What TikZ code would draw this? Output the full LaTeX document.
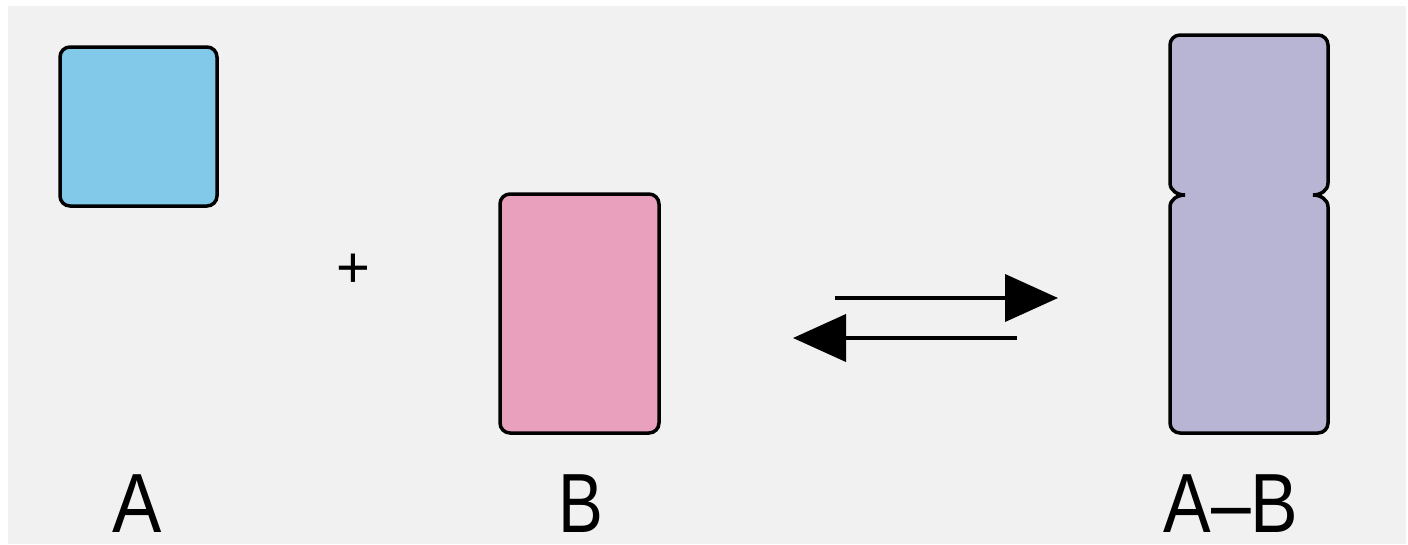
\documentclass[tikz,border=0pt]{standalone}
\usepackage{fontspec}
\setmainfont{Liberation Sans}
\usetikzlibrary{arrows.meta}
\definecolor{panel}{HTML}{F1F1F1}
\definecolor{fillA}{HTML}{82C8E8}
\definecolor{fillB}{HTML}{E8A0BC}
\definecolor{fillAB}{HTML}{B8B4D4}
\tikzset{
  block/.style={draw=black, line width=3.5pt, rounded corners=10pt, inner sep=0pt},
  label/.style={anchor=base, inner sep=0pt, font=\fontsize{84}{84}\selectfont},
  eqarrow/.style={line width=4pt, -{Triangle[length=53pt, width=47pt]}},
}
\begin{document}
\begin{tikzpicture}[x=1pt, y=-1pt]
  % canvas and panel
  \fill[white] (0,0) rectangle (1408,544);
  \fill[panel] (8,6) rectangle (1406,544);
  \useasboundingbox (0,0) rectangle (1408,544);

  % reactants
  \node[block, fill=fillA, minimum width=157pt, minimum height=159pt] (boxA) at (138.5,126.5) {};
  \node[block, fill=fillB, minimum width=159pt, minimum height=239pt] (boxB) at (579.5,313.5) {};
  \node[inner sep=0pt, font=\fontsize{58}{58}\selectfont] (plus) at (353,271) {+};

  % complex: two joined blocks with a waist
  \draw[black, line width=3.5pt, fill=fillAB]
    (1249,35) [rounded corners=10pt] -- (1328,35) -- (1328,120)
    [sharp corners] -- (1328,183)
    to[out=-90, in=0] (1313,195) to[out=0, in=90] (1328,207)
    -- (1328,300) [rounded corners=10pt] -- (1328,433) -- (1170,433) -- (1170,300)
    [sharp corners] -- (1170,207)
    to[out=90, in=180] (1185,195) to[out=180, in=-90] (1170,183)
    -- (1170,120) [rounded corners=10pt] -- (1170,35) -- cycle;
  \coordinate (boxAB) at (1249,234);

  % equilibrium arrows
  \coordinate (fwdS) at (835,298);
  \coordinate (fwdE) at (1058,298);
  \coordinate (revS) at (1017,338);
  \coordinate (revE) at (793,338);
  \draw[eqarrow] (fwdS) -- (fwdE);
  \draw[eqarrow] (revS) -- (revE);

  % labels
  \node[label] (labA) at (137,532) {\scalebox{0.88}[1]{A}};
  \node[label] (labB) at (581,532) {\scalebox{0.8}[1]{B}};
  \node[label] (labAB) at (1231,532) {\scalebox{0.85}[1]{A–B}};
\end{tikzpicture}
\end{document}
